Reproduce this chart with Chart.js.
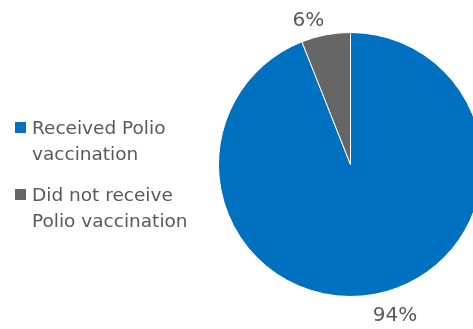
<!DOCTYPE html>
<html>
<head>
<meta charset="utf-8">
<script src="https://cdn.jsdelivr.net/npm/chart.js@4.4.0/dist/chart.umd.min.js"></script>
<style>
  html, body { margin: 0; padding: 0; background: #fff; overflow: hidden; width: 473px; height: 329px; }
  #wrap { position: absolute; left: 0; top: 0; width: 701px; height: 329px; }
  #legend { position: absolute; left: 0; top: 0; font-family: "DejaVu Sans", sans-serif; font-size: 18.5px; line-height: 26px; color: #595959; }
  .item { position: absolute; left: 32px; white-space: nowrap; }
  .box { position: absolute; left: -17px; width: 11px; height: 11px; }
</style>
</head>
<body>
<div id="wrap"><canvas id="c"></canvas></div>
<div id="legend"></div>
<script>
const categories = [
  ['Received Polio', 'vaccination'],
  ['Did not receive', 'Polio vaccination']
];
const values = [94, 6];
const valueLabels = ['94%', '6%'];
const colors = ['#0070C0', '#666666'];

// HTML legend built from the categories
const legendTops = [114.6, 181.6];
const legend = document.getElementById('legend');
categories.forEach((lines, i) => {
  const d = document.createElement('div');
  d.className = 'item';
  d.style.top = legendTops[i] + 'px';
  const b = document.createElement('span');
  b.className = 'box';
  b.style.background = colors[i];
  b.style.top = '7.5px';
  d.appendChild(b);
  lines.forEach((t, k) => {
    if (k) d.appendChild(document.createElement('br'));
    d.appendChild(document.createTextNode(t));
  });
  legend.appendChild(d);
});

const outsideLabels = {
  id: 'outsideLabels',
  afterDatasetsDraw(chart) {
    const ctx = chart.ctx;
    const meta = chart.getDatasetMeta(0);
    ctx.save();
    ctx.font = '20px "DejaVu Sans", sans-serif';
    ctx.fillStyle = '#595959';
    meta.data.forEach((arc, i) => {
      const p = arc.getProps(['x', 'y', 'startAngle', 'endAngle', 'outerRadius'], true);
      const mid = (p.startAngle + p.endAngle) / 2;
      const r = p.outerRadius + 8;
      const x = p.x + Math.cos(mid) * r;
      const y = p.y + Math.sin(mid) * r;
      const left = Math.cos(mid) < 0;
      const up = Math.sin(mid) < 0;
      ctx.textAlign = left ? 'right' : 'left';
      ctx.textBaseline = up ? 'alphabetic' : 'top';
      ctx.fillText(valueLabels[i], x + (left ? 0 : -4), y + (up ? -1 : 4));
    });
    ctx.restore();
  }
};

new Chart(document.getElementById('c'), {
  type: 'pie',
  data: {
    labels: categories,
    datasets: [{
      data: values,
      backgroundColor: colors,
      borderColor: '#ffffff',
      borderWidth: 1
    }]
  },
  options: {
    responsive: true,
    maintainAspectRatio: false,
    animation: false,
    layout: { padding: { top: 32, bottom: 32, left: 0, right: 0 } },
    plugins: {
      legend: { display: false },
      tooltip: { enabled: false }
    }
  },
  plugins: [outsideLabels]
});
</script>
</body>
</html>
